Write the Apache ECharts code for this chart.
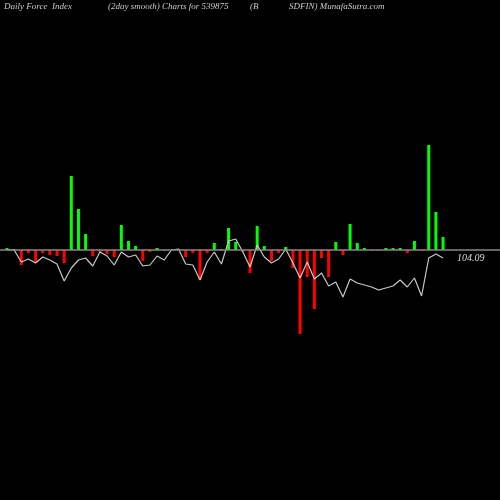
<!DOCTYPE html>
<html>
<head>
<meta charset="utf-8">
<script src="https://cdn.jsdelivr.net/npm/echarts@6/dist/echarts.min.js"></script>
<style>html,body{margin:0;padding:0;background:#000;}#chart{width:500px;height:500px;}</style>
</head>
<body>
<div id="chart"></div>
<script>
// force index bars (daily), in chart units
const barValues = [2, 1, -15, -3, -12, -3, -5, -6, -13, 74, 41, 16, -6, -2, -4, -7, 25, 9, 4, -11,
  -2, 2, -1, 0, 1, -7, -3, -30, -3, 7, 1, 22, 8, -2, -23, 24, 4, -11, -3, 3,
  -18, -84, -27, -59, -8, -27, 8, -5, 26, 7, 2, -1, -1, 2, 2, 2, -3, 9, -1, 105,
  38, 13];
// 2 day smoothed line
const smoothValues = [0, 0, -12, -9, -13, -7, -10, -14, -31, -18, -10, -8, -16, -2, -6, -15, -2, -7, -5, -16,
  -15, -6, -10, 0, 1, -14, -15, -30, -12, -2, -14, 9, 11, -2, -17, 5, -7, -13, -9, 1,
  -13, -28, -12, -29, -23, -36, -32, -47, -29, -33, -35, -37, -40, -38, -36, -30, -37, -28, -46, -8,
  -4, -8];
const lastLabel = '104.09';
const categories = barValues.map((v, i) => i);

const chart = echarts.init(document.getElementById('chart'));
const txt = { fill: '#ccc', font: 'italic 9px "Liberation Serif", serif' };
chart.setOption({
  backgroundColor: '#000',
  animation: false,
  graphic: [
    { type: 'text', left: 4, top: 2, style: Object.assign({ text: 'Daily Force  Index' }, txt) },
    { type: 'text', left: 108, top: 2, style: Object.assign({ text: '(2day smooth) Charts for 539875' }, txt) },
    { type: 'text', left: 250, top: 2, style: Object.assign({ text: '(B' }, txt) },
    { type: 'text', left: 289, top: 2, style: Object.assign({ text: 'SDFIN) MunafaSutra.com' }, txt) }
  ],
  grid: { left: 3.4, right: 53.4, top: 0, bottom: 0 },
  xAxis: { type: 'category', data: categories, show: false },
  yAxis: { type: 'value', min: -250, max: 250, show: false },
  series: [
    {
      type: 'bar', data: barValues, barWidth: 3,
      itemStyle: { color: p => p.value >= 0 ? '#00ff00' : '#ff0000' },
      markLine: {
        silent: true, symbol: 'none', label: { show: false },
        lineStyle: { color: '#888', width: 1.5, type: 'solid' },
        data: [[{ yAxis: 0, x: 0 }, { yAxis: 0, x: 500 }]]
      }
    },
    {
      type: 'line', data: smoothValues, symbol: 'none', smooth: false,
      lineStyle: { color: '#c8c8c8', width: 1.2 },
      endLabel: { show: true, formatter: lastLabel, color: '#ddd', fontFamily: 'Liberation Serif', fontStyle: 'italic', fontSize: 10, offset: [6, 0] }
    }
  ]
});
</script>
</body>
</html>
